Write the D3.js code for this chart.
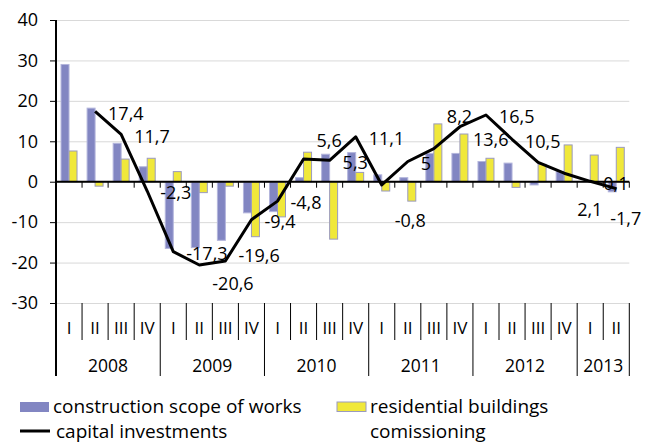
<!DOCTYPE html>
<html>
<head>
<meta charset="utf-8">
<script src="https://cdn.jsdelivr.net/npm/d3@7"></script>
<style>
    body { margin: 0; background: #ffffff; }
    svg { display: block; font-family: "Open Sans", sans-serif; }
</style>
</head>
<body>
<div id="canvas"></div>
<script>
"use strict"

/*Data (per cent, quarter to quarter)*/
let years = ["2008", "2009", "2010", "2011", "2012", "2013"]
let quartersPerYear = [4, 4, 4, 4, 4, 2]
let quarterNames = ["I", "II", "III", "IV"]
let construction = [29.0, 18.2, 9.5, 3.7, -16.5, -16.3, -14.5, -7.7, -7.4, 1.0, 6.8, 7.2, 1.7, 1.0, 7.0, 7.0, 5.0, 4.6, -0.8, 2.5, 0, -2.5]
let residential = [7.6, -1.1, 5.6, 5.8, 2.5, -2.7, -1.1, -13.6, -8.7, 7.3, -14.2, 2.3, -2.3, -4.8, 14.3, 11.8, 5.8, -1.4, 4.3, 9.1, 6.6, 8.5]
let capital = [null, 17.4, 11.7, -2.3, -17.3, -20.6, -19.6, -9.4, -4.8, 5.6, 5.3, 11.1, -0.8, 5.0, 8.2, 13.6, 16.5, 10.5, 4.8, 2.1, 0.1, -1.7]
let capitalLabelShown = [false, true, true, true, true, true, true, true, true, true, true, true, true, true, true, true, true, true, false, true, true, true]
let yTicks = [-30, -20, -10, 0, 10, 20, 30, 40]
let seriesNames = ["construction scope of works", "residential buildings", "capital investments"]

let svgWidth = 649
let svgHeight = 445
let plot = { left: 56, right: 629.3, top: 20, bottom: 303 }

/*label nudges (dx, dy) from the default spot right of the point*/
let labelShift = {
    5: [0, 17], 6: [0, -7], 9: [0, -20], 12: [0, 34], 14: [0, -34],
    15: [0, 11], 19: [0, 34], 21: [-19, 28]
}

let svg = d3.select("#canvas")
    .append("svg")
    .attr("width", svgWidth)
    .attr("height", svgHeight)

let xScale, xInner, yScale

/*one entry per quarter*/
let categories = []
years.forEach(function (y, i) {
    for (let q = 0; q < quartersPerYear[i]; q++) {
        categories.push({ year: y, quarter: quarterNames[q] })
    }
})

buildScales()
drawVisualization()

function buildScales() {
    xScale = d3.scaleBand()
        .domain(d3.range(categories.length))
        .range([plot.left, plot.right])
        .padding(0)
    xInner = d3.scaleBand()
        .domain(["construction", "residential"])
        .range([0, xScale.bandwidth()])
        .paddingInner(0)
        .paddingOuter(0.63)
    yScale = d3.scaleLinear()
        .domain([-30, 40])
        .range([plot.bottom, plot.top])
}

function drawVisualization() {
    /* gridlines */
    svg.append("g")
        .attr("transform", `translate(${plot.left},0)`)
        .call(d3.axisLeft(yScale).tickValues(yTicks).tickSize(-(plot.right - plot.left)).tickFormat(""))
        .call(g => g.select(".domain").remove())
        .selectAll("line")
        .attr("stroke", "#d9d9d9")
        .attr("stroke-width", 1)

    /* bars */
    let bars = svg.append("g")
    bars.selectAll("rect.construction")
        .data(construction)
        .join("rect")
        .classed("construction", true)
        .attr("x", (d, i) => xScale(i) + xInner("construction"))
        .attr("width", xInner.bandwidth())
        .attr("y", d => yScale(Math.max(0, d)))
        .attr("height", d => Math.abs(yScale(d) - yScale(0)))
        .attr("fill", "#8286c2")
        .attr("stroke", "#b3b5dc")
        .attr("stroke-width", 1)
    bars.selectAll("rect.residential")
        .data(residential)
        .join("rect")
        .classed("residential", true)
        .attr("x", (d, i) => xScale(i) + xInner("residential"))
        .attr("width", xInner.bandwidth())
        .attr("y", d => yScale(Math.max(0, d)))
        .attr("height", d => Math.abs(yScale(d) - yScale(0)))
        .attr("fill", "#f0e83a")
        .attr("stroke", "#9a9abf")
        .attr("stroke-width", 1)

    /* zero axis with small ticks */
    svg.append("line")
        .attr("x1", plot.left).attr("x2", plot.right)
        .attr("y1", yScale(0)).attr("y2", yScale(0))
        .attr("stroke", "black").attr("stroke-width", 2)
    svg.selectAll("line.zeroTick")
        .data(d3.range(1, categories.length + 1))
        .join("line")
        .classed("zeroTick", true)
        .attr("x1", i => plot.left + i * xScale.step())
        .attr("x2", i => plot.left + i * xScale.step())
        .attr("y1", yScale(0))
        .attr("y2", yScale(0) + 6)
        .attr("stroke", "black")
        .attr("stroke-width", 1)

    /* capital investments line */
    let linePoints = capital.map((v, i) => ({ i: i, v: v })).filter(d => d.v !== null)
    let line = d3.line()
        .x(d => xScale(d.i) + xScale.bandwidth() / 2)
        .y(d => yScale(d.v))
    svg.append("path")
        .datum(linePoints)
        .attr("d", line)
        .attr("fill", "none")
        .attr("stroke", "black")
        .attr("stroke-width", 3)
        .attr("stroke-linejoin", "round")

    /* data labels */
    svg.selectAll("text.dataLabel")
        .data(linePoints.filter(d => capitalLabelShown[d.i]))
        .join("text")
        .classed("dataLabel", true)
        .attr("x", d => xScale(d.i) + xScale.bandwidth() / 2 + 13 + (labelShift[d.i] ? labelShift[d.i][0] : 0))
        .attr("y", d => yScale(d.v) + 2 + (labelShift[d.i] ? labelShift[d.i][1] : 0))
        .attr("dy", "0.35em")
        .style("font-size", "18px")
        .style("fill", "black")
        .text(d => String(d.v).replace(".", ","))

    /* y axis */
    let yAxis = svg.append("g")
        .attr("transform", `translate(${plot.left},0)`)
        .call(d3.axisLeft(yScale).tickValues(yTicks).tickSizeInner(6).tickSizeOuter(0).tickPadding(12).tickFormat(d => String(d)))
    yAxis.select(".domain").remove()
    yAxis.selectAll("line").attr("stroke", "black")
    yAxis.selectAll("text")
        .style("font-size", "18px")
        .style("font-family", "Open Sans, sans-serif")
        .attr("fill", "black")
    svg.append("line")
        .attr("x1", plot.left).attr("x2", plot.left)
        .attr("y1", plot.top).attr("y2", 376)
        .attr("stroke", "black").attr("stroke-width", 2)

    /* category area: quarter separators, year separators */
    let boundaries = d3.range(1, categories.length + 1)
    svg.selectAll("line.qSep")
        .data(boundaries)
        .join("line")
        .classed("qSep", true)
        .attr("x1", i => plot.left + i * xScale.step())
        .attr("x2", i => plot.left + i * xScale.step())
        .attr("y1", plot.bottom)
        .attr("y2", (i) => (i === categories.length || categories[i].quarter === "I") ? 376 : 340)
        .attr("stroke", "black")
        .attr("stroke-width", 1)

    svg.selectAll("text.quarter")
        .data(categories)
        .join("text")
        .classed("quarter", true)
        .attr("x", (d, i) => xScale(i) + xScale.bandwidth() / 2)
        .attr("y", 328)
        .attr("dy", "0.35em")
        .attr("text-anchor", "middle")
        .style("font-size", "17px")
        .text(d => d.quarter)

    let start = 0
    years.forEach(function (y, k) {
        let x0 = xScale(start)
        let x1 = xScale(start + quartersPerYear[k] - 1) + xScale.bandwidth()
        svg.append("text")
            .attr("x", (x0 + x1) / 2)
            .attr("y", 366)
            .attr("dy", "0.35em")
            .attr("text-anchor", "middle")
            .style("font-size", "17.5px")
            .text(y)
        start += quartersPerYear[k]
    })

    /* legend */
    svg.append("rect")
        .attr("x", 20).attr("y", 402)
        .attr("width", 29).attr("height", 10)
        .attr("fill", "#8286c2")
    svg.append("text")
        .attr("x", 53).attr("y", 406)
        .attr("dy", "0.35em")
        .style("font-size", "19px")
        .text(seriesNames[0])

    svg.append("rect")
        .attr("x", 337).attr("y", 402)
        .attr("width", 29).attr("height", 9.5)
        .attr("fill", "#f0e83a")
        .attr("stroke", "#9a9abf")
        .attr("stroke-width", 1)
    svg.append("text")
        .attr("x", 370).attr("y", 406)
        .attr("dy", "0.35em")
        .style("font-size", "19px")
        .text(seriesNames[1])
    svg.append("text")
        .attr("x", 370).attr("y", 431)
        .attr("dy", "0.35em")
        .style("font-size", "19px")
        .text("comissioning")

    svg.append("line")
        .attr("x1", 20).attr("x2", 50)
        .attr("y1", 431).attr("y2", 431)
        .attr("stroke", "black").attr("stroke-width", 3)
    svg.append("text")
        .attr("x", 56).attr("y", 431)
        .attr("dy", "0.35em")
        .style("font-size", "19px")
        .text(seriesNames[2])
}
</script>
</body>
</html>
